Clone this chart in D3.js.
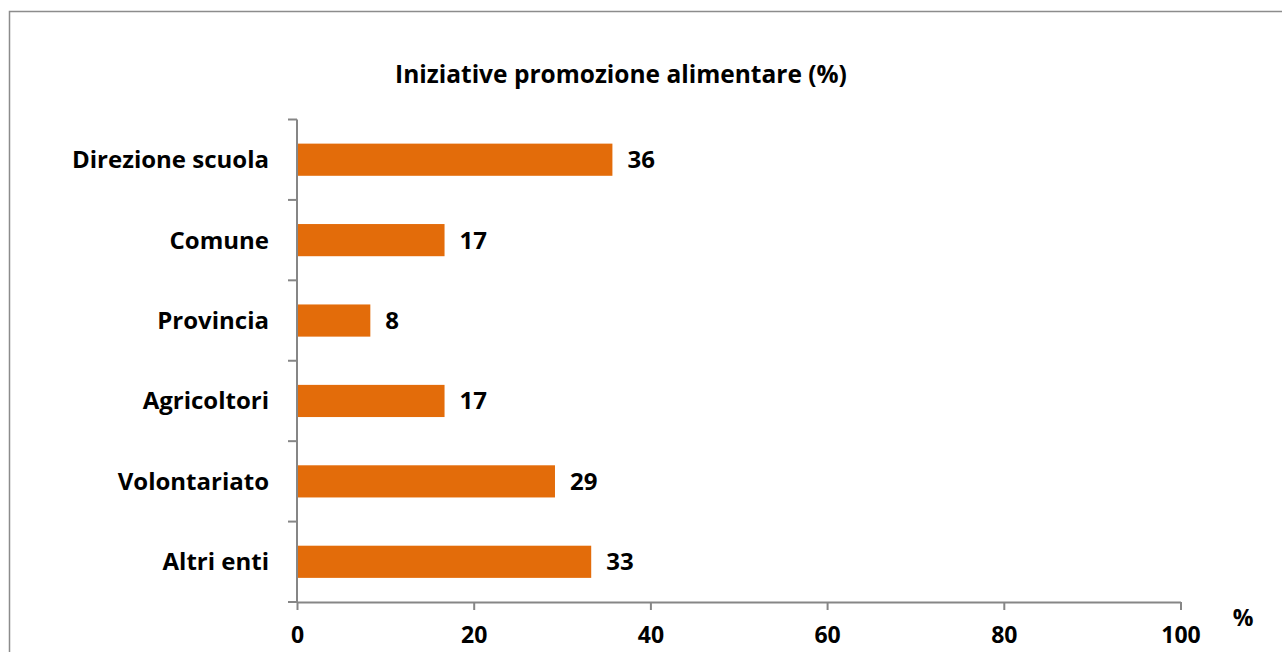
<!DOCTYPE html>
<html><head><meta charset="utf-8">
<script src="https://cdn.jsdelivr.net/npm/d3@7"></script>
<style>html,body{margin:0;padding:0;background:#fff;overflow:hidden}svg{display:block}text{font-family:"Open Sans",Lato,sans-serif;font-weight:bold;fill:#000}</style>
</head><body><svg id="c" width="1282" height="652"></svg>
<script>
const categories = ["Direzione scuola","Comune","Provincia","Agricoltori","Volontariato","Altri enti"];
const values = [35.7, 16.7, 8.3, 16.7, 29.2, 33.3];
const xTicks = [0, 20, 40, 60, 80, 100];
const title = "Iniziative promozione alimentare (%)";
const xUnit = "%";

const svg = d3.select("#c");
svg.append("rect").attr("x",9.5).attr("y",11.5).attr("width",1400).attr("height",800)
  .attr("fill","none").attr("stroke","#8c8c8c").attr("stroke-width",1.5);

const x = d3.scaleLinear().domain([0,100]).range([297,1180.5]);
const y = d3.scaleBand().domain(categories).range([119.5,602]).paddingInner(0.6).paddingOuter(0.3);
const yTick = d3.scaleBand().domain(categories).range([119.5,602]);

const axisColor = "#868686";
const gy = svg.append("g");
gy.append("line").attr("x1",x(0)).attr("x2",x(0)).attr("y1",119.5).attr("y2",602).attr("stroke",axisColor).attr("stroke-width",2);
const bounds = categories.map(c=>yTick(c)).concat([602]);
gy.selectAll("line.t").data(bounds).join("line").attr("class","t")
  .attr("x1",x(0)-9).attr("x2",x(0)).attr("y1",d=>d).attr("y2",d=>d).attr("stroke",axisColor).attr("stroke-width",2);
gy.selectAll("text").data(categories).join("text")
  .attr("x",x(0)-28).attr("y",d=>yTick(d)+yTick.bandwidth()/2).attr("dy","0.35em")
  .attr("text-anchor","end").style("font-size","24px").text(d=>d);

const gx = svg.append("g").attr("transform","translate(0,602)");
const xa = d3.axisBottom(x).tickValues(xTicks).tickSize(8).tickSizeOuter(0).tickPadding(17);
gx.call(xa);
gx.select(".domain").attr("stroke",axisColor).attr("stroke-width",2);
gx.selectAll(".tick line").attr("stroke",axisColor).attr("stroke-width",2);
gx.selectAll(".tick text").style("font-size","23px").style("font-family","'Open Sans',sans-serif").style("font-weight","bold").attr("fill","#000");

svg.selectAll("rect.bar").data(categories).join("rect").attr("class","bar")
  .attr("x",x(0)+1).attr("y",d=>y(d)).attr("height",y.bandwidth())
  .attr("width",(d,i)=>x(values[i])-x(0)-1).attr("fill","#e36c0a");
svg.selectAll("text.val").data(categories).join("text").attr("class","val")
  .attr("x",(d,i)=>x(values[i])+15).attr("y",d=>y(d)+y.bandwidth()/2).attr("dy","0.35em")
  .style("font-size","24px").text((d,i)=>Math.round(values[i]));

svg.append("text").attr("x",621).attr("y",74).attr("dy","0.35em").attr("text-anchor","middle")
  .style("font-size","24.5px").text(title);
svg.append("text").attr("x",1243).attr("y",618).attr("dy","0.35em").attr("text-anchor","middle")
  .style("font-size","23px").text(xUnit);
</script></body></html>
